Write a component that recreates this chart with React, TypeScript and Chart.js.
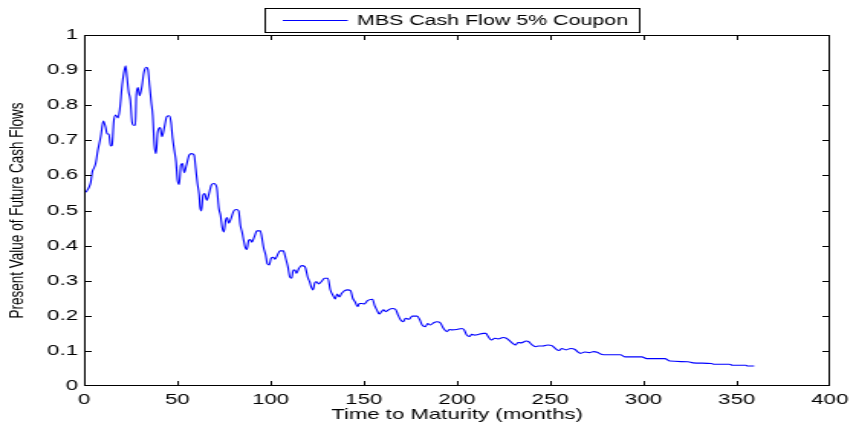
import React, { useEffect, useRef } from "react";
import { Chart, registerables } from "chart.js";

Chart.register(...registerables);

// Time to maturity (months) at which the curve was read
const months = [
  1.0, 2.7, 3.6, 4.4, 5.3, 6.2, 7.4, 8.9, 10.3, 11.5,
  12.4, 13.3, 14.2, 15.0, 15.9, 16.9, 18.1, 19.1, 20.4, 21.3,
  22.3, 23.0, 23.9, 24.8, 25.7, 26.6, 27.5, 28.0, 28.9, 29.8,
  31.1, 31.9, 32.4, 33.3, 34.2, 35.1, 36.0, 36.8, 37.7, 38.6,
  39.5, 40.8, 41.8, 43.1, 44.3, 45.7, 46.6, 47.5, 48.4, 49.3,
  50.1, 51.0, 51.9, 52.8, 53.7, 54.9, 56.4, 57.6, 59.0, 59.9,
  60.8, 61.7, 62.2, 62.9, 63.8, 64.7, 65.8, 67.0, 68.2, 69.6,
  71.1, 72.3, 73.2, 74.1, 75.0, 75.9, 76.7, 77.6, 78.8, 80.3,
  81.7, 82.9, 83.8, 84.7, 85.6, 86.5, 87.3, 88.3, 89.2, 90.0,
  91.3, 92.7, 94.5, 95.3, 96.2, 97.4, 98.3, 99.3, 100.3, 101.5,
  102.4, 103.7, 105.1, 106.9, 108.1, 109.3, 110.4, 111.3, 112.2, 113.1,
  113.9, 115.2, 116.6, 118.4, 120.1, 121.0, 121.9, 122.8, 123.7, 124.6,
  125.8, 127.2, 129.0, 130.8, 132.0, 133.4, 134.7, 135.7, 137.0, 138.2,
  139.7, 141.4, 142.9, 144.1, 145.3, 146.7, 147.6, 148.9, 150.3, 152.0,
  154.7, 155.9, 157.0, 158.3, 159.5, 160.6, 161.8, 163.6, 165.3, 167.1,
  168.4, 169.8, 171.2, 172.4, 174.2, 176.0, 178.6, 180.1, 181.3, 183.0,
  184.3, 185.7, 187.5, 189.3, 191.0, 192.8, 194.6, 196.0, 197.2, 199.9,
  202.6, 203.8, 205.2, 206.7, 207.9, 209.6, 211.4, 214.1, 215.5, 216.7,
  218.5, 220.3, 222.1, 224.7, 226.5, 228.2, 230.0, 231.4, 232.7, 234.4,
  237.1, 238.5, 240.3, 242.1, 243.9, 246.0, 248.6, 250.9, 252.7, 254.8,
  256.2, 258.4, 261.0, 263.3, 264.6, 266.3, 268.6, 270.8, 273.4, 275.2,
  277.0, 278.7, 287.6, 290.3, 299.1, 301.8, 311.5, 314.2, 323.9, 326.6,
  336.4, 338.1, 346.1, 347.8, 355.0, 355.8, 359.4,
];

// Present value of future cash flows at those months
const cashFlow = [
  0.552, 0.567, 0.581, 0.610, 0.621, 0.634, 0.672, 0.710, 0.755, 0.738,
  0.718, 0.718, 0.684, 0.686, 0.753, 0.772, 0.764, 0.786, 0.857, 0.891,
  0.912, 0.881, 0.838, 0.815, 0.753, 0.743, 0.743, 0.829, 0.850, 0.827,
  0.857, 0.888, 0.900, 0.908, 0.903, 0.857, 0.810, 0.772, 0.686, 0.662,
  0.724, 0.736, 0.710, 0.738, 0.767, 0.770, 0.753, 0.705, 0.672, 0.639,
  0.586, 0.574, 0.629, 0.634, 0.608, 0.629, 0.658, 0.662, 0.658, 0.618,
  0.577, 0.545, 0.510, 0.499, 0.544, 0.548, 0.529, 0.548, 0.572, 0.577,
  0.567, 0.506, 0.486, 0.451, 0.439, 0.472, 0.480, 0.464, 0.477, 0.499,
  0.503, 0.499, 0.458, 0.439, 0.415, 0.394, 0.389, 0.415, 0.417, 0.410,
  0.425, 0.442, 0.442, 0.425, 0.396, 0.373, 0.348, 0.345, 0.364, 0.367,
  0.361, 0.373, 0.385, 0.385, 0.364, 0.340, 0.310, 0.307, 0.330, 0.330,
  0.321, 0.335, 0.343, 0.340, 0.307, 0.297, 0.281, 0.274, 0.294, 0.297,
  0.291, 0.297, 0.307, 0.307, 0.275, 0.259, 0.248, 0.262, 0.254, 0.264,
  0.272, 0.274, 0.272, 0.250, 0.240, 0.226, 0.235, 0.235, 0.234, 0.243,
  0.247, 0.228, 0.217, 0.205, 0.212, 0.217, 0.212, 0.218, 0.221, 0.218,
  0.202, 0.188, 0.183, 0.193, 0.190, 0.199, 0.199, 0.188, 0.174, 0.169,
  0.178, 0.174, 0.180, 0.183, 0.180, 0.164, 0.155, 0.161, 0.160, 0.161,
  0.164, 0.160, 0.145, 0.141, 0.147, 0.145, 0.147, 0.150, 0.150, 0.141,
  0.131, 0.136, 0.134, 0.138, 0.136, 0.129, 0.121, 0.117, 0.124, 0.123,
  0.128, 0.126, 0.117, 0.112, 0.114, 0.114, 0.117, 0.115, 0.107, 0.101,
  0.107, 0.103, 0.107, 0.104, 0.098, 0.093, 0.097, 0.095, 0.098, 0.096,
  0.091, 0.089, 0.089, 0.083, 0.083, 0.078, 0.078, 0.071, 0.069, 0.066,
  0.064, 0.062, 0.062, 0.059, 0.059, 0.057, 0.057,
];

const xRange = [0, 400];
const xStep = 50;
const yRange = [0, 1];
const yStep = 0.1;

const legendLabel = "MBS Cash Flow 5% Coupon";
const xTitle = "Time to Maturity (months)";
const yTitle = "Present Value of Future Cash Flows";

// The reference is a MATLAB figure stretched horizontally; draw at a
// narrower internal width and let CSS stretch the canvas to 856px.
const INTERNAL_W = 560;
const INTERNAL_H = 425;
const FONT = "'Liberation Sans', Arial, Helvetica, sans-serif";

export default function App() {
  const ref = useRef<HTMLCanvasElement>(null);

  useEffect(() => {
    const canvas = ref.current;
    if (!canvas) return;

    const matlabFrame = {
      id: "matlabFrame",
      afterDraw(chart: any) {
        const { ctx, chartArea: a, scales } = chart;
        const L = Math.round(a.left);
        const R = Math.round(a.right);
        const T = Math.round(a.top);
        const B = Math.round(a.bottom);
        const tick = 5;
        ctx.save();
        ctx.fillStyle = "#000";
        // box
        ctx.fillRect(L, T, R - L, 1);
        ctx.fillRect(L, B - 1, R - L, 1);
        ctx.fillRect(L, T, 1, B - T);
        ctx.fillRect(R - 1, T, 1, B - T);
        // inward ticks
        for (const t of scales.x.ticks) {
          const px = Math.round(scales.x.getPixelForValue(t.value));
          const cx = Math.min(Math.max(px, L), R - 1);
          ctx.fillRect(cx, B - tick, 1, tick);
          ctx.fillRect(cx, T, 1, tick);
        }
        for (const t of scales.y.ticks) {
          const py = Math.round(scales.y.getPixelForValue(t.value));
          const cy = Math.min(Math.max(py, T), B - 1);
          ctx.fillRect(L, cy, tick, 1);
          ctx.fillRect(R - tick, cy, tick, 1);
        }
        // legend
        const bx = 173, by = 8, bw = 246, bh = 25;
        ctx.fillStyle = "#fff";
        ctx.fillRect(bx, by, bw, bh);
        ctx.fillStyle = "#000";
        ctx.fillRect(bx, by, bw, 1);
        ctx.fillRect(bx, by + bh - 1, bw, 1);
        ctx.fillRect(bx, by, 1, bh);
        ctx.fillRect(bx + bw - 1, by, 1, bh);
        ctx.fillStyle = "#0000ff";
        ctx.fillRect(185, 20, 42.5, 1);
        ctx.fillStyle = "#000";
        ctx.font = `14px ${FONT}`;
        ctx.textBaseline = "middle";
        ctx.textAlign = "left";
        ctx.fillText(legendLabel, 233.5, 21);
        ctx.restore();
      },
    };

    const points = months.map((m, i) => ({ x: m, y: cashFlow[i] }));

    const chart = new Chart(canvas, {
      type: "line",
      data: {
        datasets: [
          {
            label: legendLabel,
            data: points,
            borderColor: "#0000ff",
            borderWidth: 1.1,
            pointRadius: 0,
            fill: false,
            cubicInterpolationMode: "monotone",
          },
        ],
      },
      options: {
        responsive: false,
        animation: false,
        devicePixelRatio: 1,
        layout: { padding: { top: 35, right: 13, bottom: 0, left: 0 } },
        plugins: {
          legend: { display: false },
          tooltip: { enabled: false },
        },
        scales: {
          x: {
            type: "linear",
            min: xRange[0],
            max: xRange[1],
            grid: { display: false, drawTicks: false },
            border: { display: false },
            ticks: {
              stepSize: xStep,
              autoSkip: false,
              maxRotation: 0,
              padding: 5,
              color: "#000",
              font: { family: FONT, size: 14.5 },
            },
            title: {
              display: true,
              text: xTitle,
              color: "#000",
              font: { family: FONT, size: 14.5 },
              padding: { top: 0, bottom: 1.5 },
            },
            afterFit: (s: any) => {
              s.height = 39;
            },
          },
          y: {
            type: "linear",
            min: yRange[0],
            max: yRange[1],
            grid: { display: false, drawTicks: false },
            border: { display: false },
            ticks: {
              stepSize: yStep,
              padding: 4,
              color: "#000",
              font: { family: FONT, size: 14.5 },
              callback: (v: any) => String(Math.round(Number(v) * 10) / 10),
            },
            title: {
              display: true,
              text: yTitle,
              color: "#000",
              font: { family: FONT, size: 13.5 },
              padding: { top: 3, bottom: 0 },
            },
            afterFit: (s: any) => {
              s.width = 55;
            },
          },
        },
      },
      plugins: [matlabFrame],
    } as any);

    return () => chart.destroy();
  }, []);

  return (
    <div
      style={{
        position: "absolute",
        left: 0,
        top: 0,
        width: 856,
        height: 425,
        background: "#fff",
      }}
    >
      <canvas
        ref={ref}
        width={INTERNAL_W}
        height={INTERNAL_H}
        style={{ width: "856px", height: "425px", display: "block" }}
      />
    </div>
  );
}
